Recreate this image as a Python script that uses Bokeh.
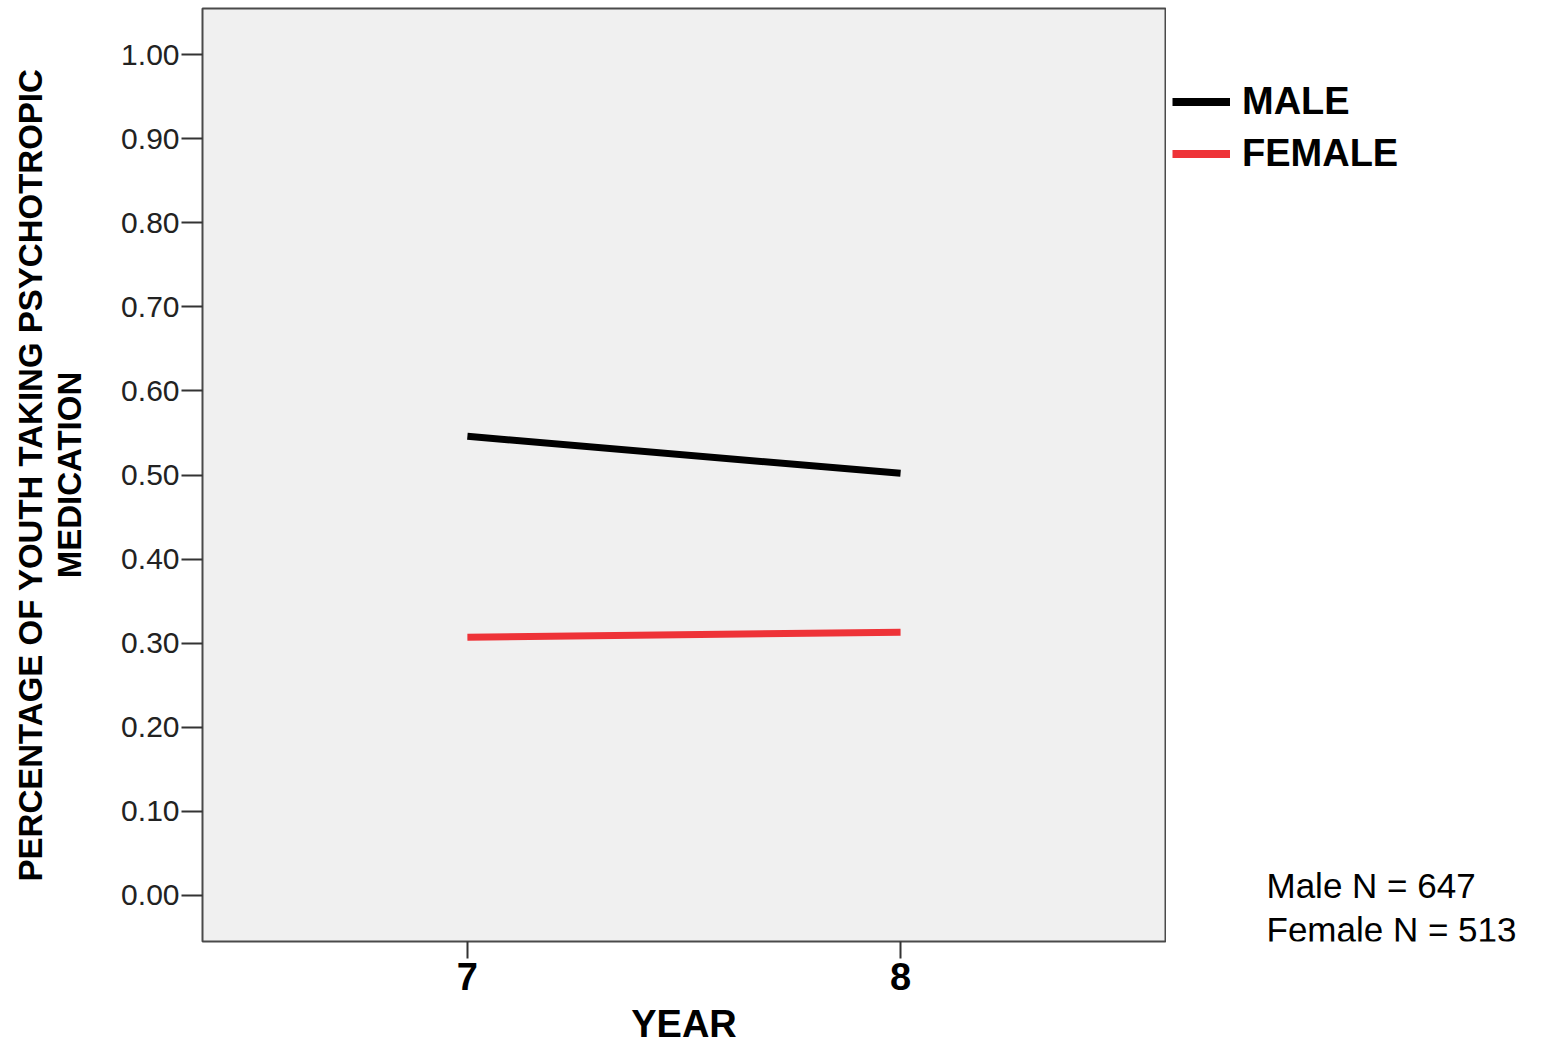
from bokeh.plotting import figure
from bokeh.models import Range1d, FixedTicker, Legend, LegendItem, Label
from bokeh.layouts import row
from bokeh.embed import file_html
from bokeh.resources import INLINE

# ---- data ----
years = [7, 8]
male = [0.546, 0.502]
female = [0.307, 0.313]
y_ticks = [0.0, 0.1, 0.2, 0.3, 0.4, 0.5, 0.6, 0.7, 0.8, 0.9, 1.0]
y_tick_labels = ["0.00", "0.10", "0.20", "0.30", "0.40", "0.50", "0.60", "0.70", "0.80", "0.90", "1.00"]
x_tick_labels = ["7", "8"]
series_names = ["MALE", "FEMALE"]
series_colors = ["black", "#ee3338"]
series_values = [male, female]
n_notes = ["Male N = 647", "Female N = 513"]
y_title = "PERCENTAGE OF YOUTH TAKING PSYCHOTROPIC\nMEDICATION"
x_title = "YEAR"

FONT = "Liberation Sans"
H = 1060
TOP, BOTTOM = 8, H - 941

p = figure(width=1166, height=H, output_backend="svg", toolbar_location=None,
           x_range=Range1d(6.3885, 8.6116), y_range=Range1d(-0.0548, 1.0548),
           min_border_left=202, min_border_right=1, min_border_top=TOP, min_border_bottom=BOTTOM)

p.background_fill_color = "#f0f0f0"
p.border_fill_color = "white"
p.outline_line_color = "#4a4a4a"
p.outline_line_width = 2
p.grid.visible = False

# axes
p.xaxis.ticker = FixedTicker(ticks=years)
p.xaxis.major_label_overrides = {y: s for y, s in zip(years, x_tick_labels)}
p.xaxis.major_label_text_font = FONT
p.xaxis.major_label_text_font_style = "bold"
p.xaxis.major_label_text_font_size = "38px"
p.xaxis.major_label_text_color = "black"
p.xaxis.major_label_standoff = 4
p.xaxis.major_tick_out = 17
p.xaxis.major_tick_in = 0
p.xaxis.minor_tick_line_color = None
p.xaxis.axis_line_color = None
p.xaxis.major_tick_line_color = "#333333"
p.xaxis.major_tick_line_width = 2
p.xaxis.axis_label = x_title
p.xaxis.axis_label_text_font = FONT
p.xaxis.axis_label_text_font_style = "bold"
p.xaxis.axis_label_text_font_size = "38px"
p.xaxis.axis_label_text_color = "black"
p.xaxis.axis_label_standoff = 10

p.yaxis.ticker = FixedTicker(ticks=y_ticks)
p.yaxis.major_label_overrides = {t: s for t, s in zip(y_ticks, y_tick_labels)}
p.yaxis.major_label_text_font = FONT
p.yaxis.major_label_text_font_size = "30px"
p.yaxis.major_label_text_color = "#222222"
p.yaxis.major_label_standoff = 2
p.yaxis.major_tick_out = 21
p.yaxis.major_tick_in = 0
p.yaxis.minor_tick_line_color = None
p.yaxis.axis_line_color = None
p.yaxis.major_tick_line_color = "#333333"
p.yaxis.major_tick_line_width = 2
p.yaxis.axis_label = y_title
p.yaxis.axis_label_text_font = FONT
p.yaxis.axis_label_text_font_style = "bold"
p.yaxis.axis_label_text_font_size = "33px"
p.yaxis.axis_label_text_color = "black"
p.yaxis.axis_label_text_align = "center"
p.yaxis.axis_label_text_line_height = 1.05
p.yaxis.axis_label_standoff = 30

# lines
for vals, col in zip(series_values, series_colors):
    p.line(years, vals, line_color=col, line_width=7)

# side panel figure holding legend and notes (frame aligned with the main frame)
W2 = 1540 - 1166
p2 = figure(width=W2, height=H, output_backend="svg", toolbar_location=None,
            x_range=Range1d(100, 100 + W2), y_range=Range1d(100, 100 + 941 - TOP),
            x_axis_location=None, y_axis_location=None,
            min_border_left=0, min_border_right=0, min_border_top=TOP, min_border_bottom=BOTTOM)
p2.outline_line_color = None
p2.background_fill_color = "white"
p2.border_fill_color = "white"
p2.grid.visible = False

# legend proxies: same series, drawn out of this panel's visible range
items = []
for name, vals, col in zip(series_names, series_values, series_colors):
    r = p2.line(years, vals, line_color=col, line_width=8)
    items.append(LegendItem(label=name, renderers=[r]))

# location tuple = bottom-left corner of the legend, in frame pixels
legend = Legend(items=items, location=(6, 941 - 175))
legend.border_line_color = None
legend.background_fill_alpha = 0
legend.padding = 0
legend.margin = 0
legend.spacing = 9
legend.glyph_width = 58
legend.glyph_height = 33
legend.label_height = 33
legend.label_standoff = 12
legend.label_text_font = FONT
legend.label_text_font_style = "bold"
legend.label_text_font_size = "38px"
legend.label_text_color = "black"
p2.add_layout(legend, "center")

for i, t in enumerate(n_notes):
    p2.add_layout(Label(x=100, y=56 - 44 * i, x_units="screen", y_units="screen", text=t,
                        text_font=FONT, text_font_size="35px", text_color="black",
                        text_baseline="alphabetic", text_align="left"))

layout = row(p, p2, spacing=0)
open("out.html", "w").write(file_html(layout, INLINE))
